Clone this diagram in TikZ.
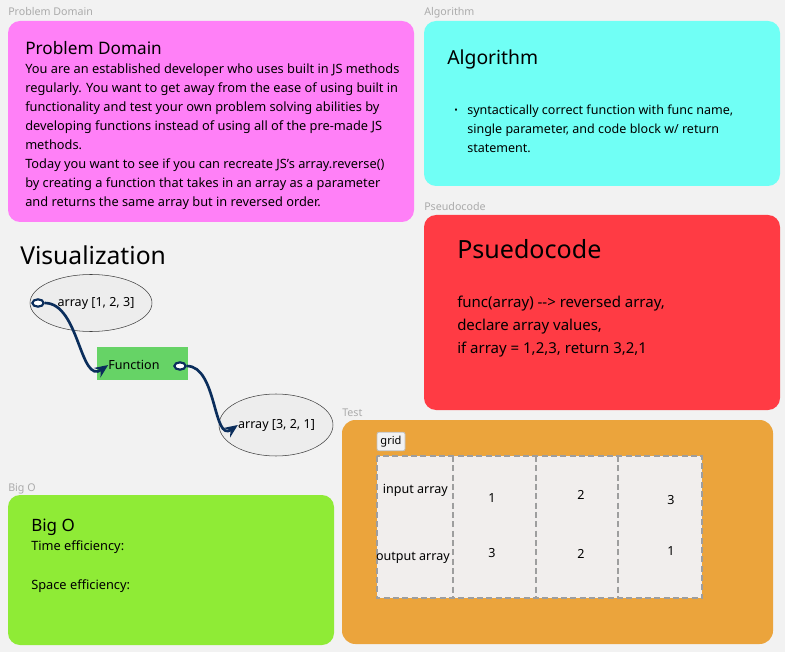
\documentclass[tikz,border=0pt]{standalone}
\usepackage{fontspec}
\setmainfont{Noto Sans}
\usetikzlibrary{positioning, shapes.geometric, arrows.meta, fit, calc}

\definecolor{bggray}{HTML}{F2F2F2}
\definecolor{taggray}{HTML}{ABABAB}
\definecolor{pinkpanel}{HTML}{FF80F7}
\definecolor{cyanpanel}{HTML}{70FFF5}
\definecolor{redpanel}{HTML}{FF3B44}
\definecolor{orangepanel}{HTML}{EBA43C}
\definecolor{greenpanel}{HTML}{8FEB36}
\definecolor{fngreen}{HTML}{66D366}
\definecolor{navy}{HTML}{0B2E5C}
\definecolor{cellfill}{HTML}{F1EEED}
\definecolor{dashgray}{HTML}{9E9E9E}

\begin{document}
\begin{tikzpicture}[
    x=0.75pt, y=-0.75pt,
    >=Stealth,
    panel/.style={
        rectangle,
        rounded corners=9pt,
        inner sep=0pt,
        draw=none
    },
    tag/.style={
        anchor=base west,
        inner sep=0pt,
        text=taggray,
        font=\fontsize{8}{9}\selectfont
    },
    heading/.style={
        anchor=base west,
        inner sep=0pt
    },
    body/.style={
        anchor=base west,
        inner sep=0pt,
        align=left,
        font=\fontsize{9.6}{14.25}\selectfont
    },
    arraynode/.style={
        draw=black!75,
        ellipse,
        fill=black!7,
        line width=0.4pt,
        inner sep=0pt
    },
    port/.style={
        draw=navy,
        ellipse,
        fill=white,
        line width=1.6pt,
        minimum width=8.5pt,
        minimum height=5.5pt,
        inner sep=0pt
    },
    vtext/.style={
        inner sep=0pt,
        font=\fontsize{9.4}{11}\selectfont
    },
    link/.style={
        -{Stealth[length=10pt, width=8.5pt]},
        draw=navy,
        line width=2pt
    },
    cell/.style={
        inner sep=0pt,
        font=\fontsize{9.4}{11}\selectfont
    },
    gridline/.style={
        draw=dashgray,
        line width=1.5pt,
        dash pattern=on 4.5pt off 2.5pt
    }
]

\useasboundingbox (0,0) rectangle (785,652);
\fill[bggray] (0,0) rectangle (785,652);

% Problem domain (body anchored on its last baseline)
\node[tag] (pdtag) at (8,16) {Problem Domain};
\node[panel, fill=pinkpanel, fit={(8,21) (414,222)}] (pd) {};
\node[heading, font=\fontsize{12.9}{16}\selectfont] (pdtitle) at (25,55) {Problem Domain};
\node[body] (pdtext) at (25,207) {%
    You are an established developer who uses built in JS methods\\
    regularly. You want to get away from the ease of using built in\\
    functionality and test your own problem solving abilities by\\
    developing functions instead of using all of the pre-made JS\\
    methods.\\
    Today you want to see if you can recreate JS's array.reverse()\\
    by creating a function that takes in an array as a parameter\\
    and returns the same array but in reversed order.
};

% Algorithm
\node[tag] (algtag) at (424,16) {Algorithm};
\node[panel, fill=cyanpanel, fit={(424,21) (780,186)}] (alg) {};
\node[heading, font=\fontsize{14.5}{18}\selectfont] (algtitle) at (447,65) {Algorithm};
\node[body, font=\fontsize{7}{8}\selectfont] (algdot) at (454,114) {\textbullet};
\node[body, font=\fontsize{9.4}{14.25}\selectfont] (algtext) at (467,153) {%
    syntactically correct function with func name,\\
    single parameter, and code block w/ return\\
    statement.
};

% Pseudocode
\node[tag] (pstag) at (424,211) {Pseudocode};
\node[panel, fill=redpanel, fit={(424,215) (780,410)}] (ps) {};
\node[heading, font=\fontsize{18.8}{24}\selectfont] (pstitle) at (457,258) {Psuedocode};
\node[body, font=\fontsize{11.25}{16.9}\selectfont] (pstext) at (457,353) {%
    func(array) {-}{-}> reversed array,\\
    declare array values,\\
    if array = 1,2,3, return 3,2,1
};

% Visualization
\node[heading, font=\fontsize{18.5}{21}\selectfont] (vistitle) at (20,265) {Visualization};
\node[arraynode, minimum width=91.5pt, minimum height=42.75pt] (inarr) at (91,303) {};
\node[vtext] (intxt) at (96,303) {array [1, 2, 3]};
\node[port] (inport) at (38,303) {};
\node[rectangle, fill=fngreen, minimum width=68.25pt, minimum height=24.75pt] (fnbox) at (142.5,363.5) {};
\node[vtext] (fn) at (134,365) {Function};
\node[port] (fnport) at (180,366) {};
\node[arraynode, minimum width=85.5pt, minimum height=46.5pt] (outarr) at (276,425) {};
\node[vtext] (outtxt) at (276.5,425) {array [3, 2, 1]};

\draw[link] (inport) to[out=0, in=215] (fn.west);
\draw[link] (fnport) to[out=0, in=215] (outtxt.west);

% Test
\node[tag] (testtag) at (342,416) {Test};
\node[panel, fill=orangepanel, rounded corners=10pt, fit={(342,420) (773,644)}] (test) {};
\node[rectangle, draw=black!25, fill=bggray, rounded corners=1.5pt, line width=0.6pt,
      minimum width=21pt, minimum height=14pt, inner sep=0pt,
      font=\fontsize{8.3}{9}\selectfont] (gridtag) at (391,441.5) {grid};
\node[rectangle, fill=cellfill, inner sep=0pt, fit={(377,456) (702,598)}] (grid) {};
\draw[gridline] (grid.north west) rectangle (grid.south east);
\coordinate (col1) at (453,456);
\coordinate (col2) at (536,456);
\coordinate (col3) at (618,456);
\draw[gridline] (col1) -- (col1 |- grid.south);
\draw[gridline] (col2) -- (col2 |- grid.south);
\draw[gridline] (col3) -- (col3 |- grid.south);

\node[cell, anchor=base east] (inlabel) at (448,493) {input array};
\node[cell, anchor=base east] (outlabel) at (450,560) {output array};
\node[cell, anchor=base] (in1) at (492,502) {1};
\node[cell, anchor=base] (in2) at (581,499) {2};
\node[cell, anchor=base] (in3) at (671,504) {3};
\node[cell, anchor=base] (out1) at (492,557) {3};
\node[cell, anchor=base] (out2) at (581,558) {2};
\node[cell, anchor=base] (out3) at (671,555) {1};

% Big O
\node[tag] (bigotag) at (8,491) {Big O};
\node[panel, fill=greenpanel, fit={(8,495) (334,645)}] (bigo) {};
\node[heading, font=\fontsize{12.75}{15}\selectfont] (bigotitle) at (31,531) {Big O};
\node[body] (timeeff) at (31,550) {Time efficiency:};
\node[body] (spaceeff) at (31,589) {Space efficiency:};

\end{tikzpicture}
\end{document}
